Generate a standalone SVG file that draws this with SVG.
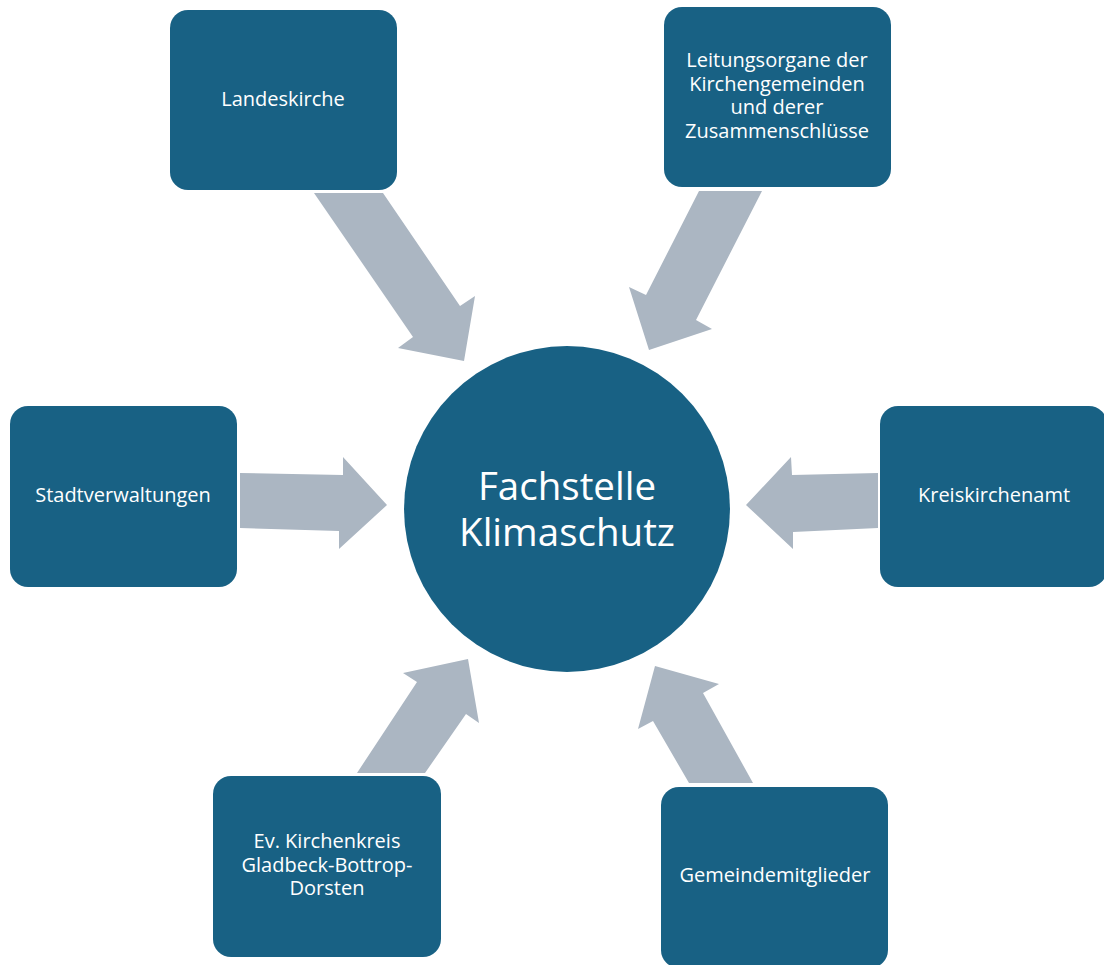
<svg xmlns="http://www.w3.org/2000/svg" width="1104" height="965" viewBox="0 0 1104 965">
<style>
.box{fill:#186184}
.arr{fill:#ABB6C2}
.t{font-family:"Open Sans","Liberation Sans",sans-serif;font-size:20px;fill:#ffffff;text-anchor:middle}
.big{font-family:"Open Sans","Liberation Sans",sans-serif;font-size:38.5px;fill:#ffffff;text-anchor:middle}
</style>
<rect width="1104" height="965" fill="#ffffff"/>
<g id="connectors">
<polygon class="arr" points="314,193 383,193 460,306 475,296 464,361 398,348 413,337"/>
<polygon class="arr" points="699,191 762,191 696,320 712,329 649,350 629,287 646,295"/>
<polygon class="arr" points="240,473 343,475 343,457 387,505 339,549 339,531 240,528"/>
<polygon class="arr" points="878,473 792,475 791,457 746,505 793,549 793,532 878,528"/>
<polygon class="arr" points="357,773 425,773 466,714 479,723 468,659 403,673 417,682"/>
<polygon class="arr" points="689,783 753,783 703,693 719,684 655,666 638,729 653,721"/>
</g>
<g id="center">
<circle class="box" cx="567" cy="509" r="163"/>
<text class="big" x="567" y="500">Fachstelle</text>
<text class="big" x="567" y="546">Klimaschutz</text>
</g>
<g id="landeskirche">
<rect class="box" x="170" y="10" width="227" height="180" rx="18"/>
<text class="t" x="283" y="106">Landeskirche</text>
</g>
<g id="leitungsorgane">
<rect class="box" x="664" y="7" width="227" height="180" rx="18"/>
<text class="t" x="777" y="67">Leitungsorgane der</text>
<text class="t" x="777" y="91">Kirchengemeinden</text>
<text class="t" x="777" y="114">und derer</text>
<text class="t" x="777" y="138">Zusammenschlüsse</text>
</g>
<g id="stadtverwaltungen">
<rect class="box" x="10" y="406" width="227" height="181" rx="18"/>
<text class="t" x="123" y="502">Stadtverwaltungen</text>
</g>
<g id="kreiskirchenamt">
<rect class="box" x="880" y="406" width="227" height="181" rx="18"/>
<text class="t" x="994" y="502">Kreiskirchenamt</text>
</g>
<g id="kirchenkreis">
<rect class="box" x="213" y="776" width="228" height="181" rx="18"/>
<text class="t" x="327" y="848">Ev. Kirchenkreis</text>
<text class="t" x="327" y="872">Gladbeck-Bottrop-</text>
<text class="t" x="327" y="895">Dorsten</text>
</g>
<g id="gemeindemitglieder">
<rect class="box" x="661" y="787" width="227" height="181" rx="18"/>
<text class="t" x="775" y="882">Gemeindemitglieder</text>
</g>
</svg>
